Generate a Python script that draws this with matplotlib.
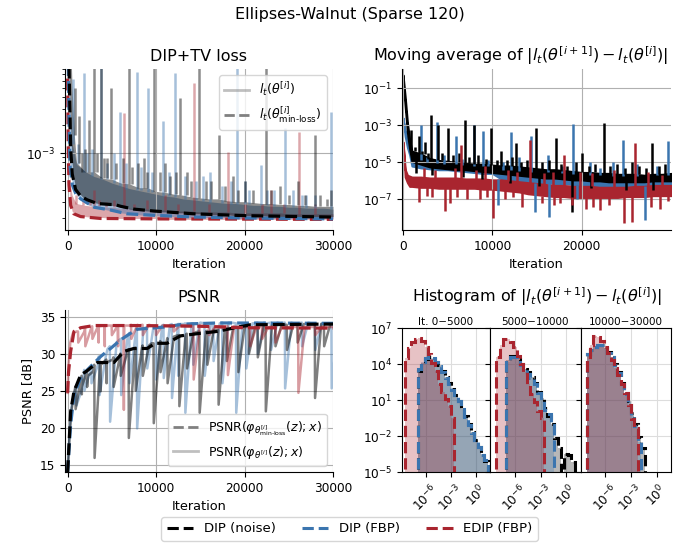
import numpy as np
import matplotlib
matplotlib.use('Agg')
import matplotlib.pyplot as plt
from matplotlib.lines import Line2D

C_NOISE = 'black'
C_FBP = '#3b75af'
C_EDIP = '#a9252f'

# iterations at which the envelope of the noisy curves is sampled
band_it = [0, 250, 500, 750] + list(range(1000, 30001, 1000))

# ---- DIP+TV loss, log10 values: lower / upper edge of the dense noisy band ----
loss_noise_hi = [-1.0, -1.5, -2.3, -2.8,
                 -3.1, -3.2, -3.2, -3.27, -3.28, -3.32, -3.33, -3.37, -3.37, -3.41,
                 -3.42, -3.44, -3.45, -3.47, -3.48, -3.49, -3.49, -3.51, -3.52, -3.52,
                 -3.53, -3.54, -3.54, -3.55, -3.55, -3.56, -3.56, -3.57, -3.57, -3.57]
loss_noise_lo = [-1.0, -2.5, -3.1, -3.3,
                 -3.40, -3.50, -3.53, -3.55, -3.56, -3.57, -3.60, -3.61, -3.62, -3.63,
                 -3.63, -3.64, -3.64, -3.65, -3.65, -3.66, -3.66, -3.66, -3.67, -3.67,
                 -3.67, -3.67, -3.68, -3.68, -3.68, -3.68, -3.68, -3.68, -3.68, -3.68]
loss_fbp_hi = [-1.5, -2.4, -2.9, -3.0,
               -3.12, -3.2, -3.25, -3.28, -3.32, -3.35, -3.38, -3.4, -3.42, -3.44,
               -3.46, -3.47, -3.49, -3.5, -3.51, -3.52, -3.53, -3.54, -3.54, -3.55,
               -3.56, -3.56, -3.57, -3.57, -3.58, -3.58, -3.59, -3.59, -3.59, -3.6]
loss_fbp_lo = [-1.5, -3.1, -3.3, -3.4,
               -3.45, -3.54, -3.58, -3.60, -3.62, -3.64, -3.65, -3.66, -3.67, -3.67,
               -3.68, -3.68, -3.68, -3.69, -3.69, -3.69, -3.69, -3.69, -3.70, -3.70,
               -3.70, -3.70, -3.70, -3.70, -3.70, -3.70, -3.70, -3.70, -3.70, -3.70]
loss_edip_hi = [-2.1, -3.3, -3.45, -3.5,
                -3.54, -3.56, -3.57, -3.58, -3.58, -3.59, -3.59, -3.6, -3.6, -3.61,
                -3.61, -3.62, -3.62, -3.62, -3.63, -3.63, -3.63, -3.63, -3.64, -3.64,
                -3.64, -3.64, -3.64, -3.64, -3.65, -3.65, -3.65, -3.65, -3.65, -3.65]
loss_edip_lo = [-2.1, -3.5, -3.62, -3.65,
                -3.66, -3.68, -3.69, -3.69, -3.70, -3.70, -3.70, -3.70, -3.70, -3.70,
                -3.71, -3.71, -3.71, -3.71, -3.71, -3.71, -3.71, -3.71, -3.71, -3.71,
                -3.71, -3.71, -3.71, -3.71, -3.71, -3.71, -3.71, -3.71, -3.71, -3.71]
loss_noise_spike_it = [800, 1300, 1600, 2000, 2400, 2970, 3300, 3750, 4100, 4470,
                       4930, 5500, 6300, 6920, 7300, 8000, 8600, 9000, 9810, 10400,
                       11000, 11600, 12200, 12670, 13500, 14000, 14900, 15600, 16200, 17150,
                       17800, 18740, 19300, 20100, 21000, 22400, 23000, 24000, 25000, 26000,
                       26800, 27980, 28500, 29290, 29800]
loss_noise_spike = [-2.3, -2.6, -3.0, -2.95, -2.64, -1.5, -3.0, -1.5, -3.05, -3.05,
                    -2.30, -3.1, -3.05, -1.5, -3.15, -3.1, -3.05, -3.2, -1.5, -3.2,
                    -3.1, -3.25, -3.2, -2.41, -3.2, -3.3, -1.5, -3.3, -3.3, -2.81,
                    -3.35, -3.24, -3.4, -3.3, -3.4, -1.5, -3.4, -3.35, -3.45, -3.3,
                    -3.45, -2.81, -3.45, -3.49, -3.4]
loss_fbp_spike_it = [600, 1200, 1840, 2200, 2700, 3800, 4500, 5200, 5900, 6600,
                     7860, 8300, 9060, 9500, 10790, 11500, 12180, 13300, 14500, 15300,
                     16130, 17500, 18500, 19100, 20000, 20500, 21880, 22500, 23300, 24520,
                     25500, 26500, 27000, 28000, 29780]
loss_fbp_spike = [-2.2, -2.9, -2.14, -3.0, -2.95, -1.5, -3.1, -3.0, -2.56, -3.1,
                  -2.13, -3.15, -2.30, -3.2, -2.66, -3.2, -2.14, -3.25, -3.3, -3.25,
                  -3.2, -3.35, -3.3, -1.5, -3.3, -3.4, -3.13, -3.4, -3.4, -2.73,
                  -3.4, -3.45, -3.45, -3.45, -2.56]
loss_edip_spike_it = [1000, 1700, 2500, 3000, 3500, 4300, 5200, 6355, 7500, 9000,
                      11000, 12500, 14250, 16000, 18120, 20000, 22000, 23000, 24500, 26100,
                      28000]
loss_edip_spike = [-3.45, -3.5, -3.5, -3.4, -3.5, -3.52, -3.5, -2.57, -3.55, -3.5,
                   -3.45, -3.55, -2.25, -3.55, -2.99, -3.55, -3.55, -3.4, -3.55, -2.77,
                   -3.55]

minloss_noise_it = [0, 150, 340, 530, 900, 1470, 2200, 3350, 4850, 5300, 6000, 7500, 9700, 14200, 20000, 30000]
minloss_noise = [-1.0, -2.05, -2.95, -3.23, -3.39, -3.46, -3.50, -3.54, -3.55, -3.55, -3.57, -3.60, -3.62, -3.65, -3.67, -3.685]
minloss_fbp_it = [0, 150, 260, 530, 900, 1470, 3000, 4850, 6700, 9700, 14200, 20000, 30000]
minloss_fbp = [-1.5, -2.59, -3.13, -3.34, -3.43, -3.49, -3.58, -3.61, -3.65, -3.666, -3.684, -3.695, -3.705]
minloss_edip_it = [0, 60, 150, 340, 700, 1470, 3700, 10500, 30000]
minloss_edip = [-2.2, -2.9, -3.34, -3.56, -3.65, -3.68, -3.70, -3.705, -3.71]

# ---- moving average of |l(i+1)-l(i)|, log10 values ----
ma_noise_hi = [-0.28, -1.5, -2.9, -3.8,
               -4.4, -4.55, -4.8, -4.9, -4.95, -5.0, -5.05, -5.1, -5.1, -5.15,
               -5.2, -5.2, -5.25, -5.3, -5.35, -5.4, -5.4, -5.45, -5.5, -5.55,
               -5.55, -5.6, -5.6, -5.65, -5.65, -5.65, -5.7, -5.65, -5.65, -5.6]
ma_noise_lo = [-0.6, -2.0, -3.4, -4.3,
               -4.95, -5.1, -5.25, -5.3, -5.35, -5.4, -5.4, -5.45, -5.5, -5.55,
               -5.6, -5.65, -5.7, -5.75, -5.8, -5.85, -5.85, -5.9, -5.95, -5.95,
               -6.0, -6.0, -6.05, -6.05, -6.05, -6.05, -6.05, -6.0, -6.0, -6.0]
ma_fbp_hi = [-2.6, -3.3, -3.8, -4.2,
             -4.7, -4.9, -5.0, -5.05, -5.1, -5.1, -5.15, -5.2, -5.2, -5.25,
             -5.4, -5.4, -5.45, -5.5, -5.5, -5.55, -5.6, -5.6, -5.65, -5.65,
             -5.7, -5.7, -5.75, -5.75, -5.75, -5.75, -5.75, -5.7, -5.7, -5.7]
ma_fbp_lo = [-2.6, -3.6, -4.2, -4.6,
             -5.2, -5.3, -5.35, -5.4, -5.4, -5.45, -5.5, -5.55, -5.6, -5.6,
             -5.9, -5.95, -6.0, -6.05, -6.1, -6.1, -6.15, -6.15, -6.2, -6.2,
             -6.25, -6.25, -6.3, -6.3, -6.3, -6.3, -6.3, -6.25, -6.25, -6.25]
ma_edip_hi = [-3.9, -5.4, -5.7, -5.75,
              -5.8, -5.8, -5.85, -5.85, -5.85, -5.85, -5.9, -5.9, -5.9, -5.95,
              -5.95, -6.0, -6.05, -6.1, -6.15, -6.2, -6.25, -6.25, -6.3, -6.3,
              -6.3, -6.35, -6.35, -6.35, -6.35, -6.3, -6.3, -6.25, -6.25, -6.25]
ma_edip_lo = [-3.9, -5.8, -6.1, -6.3,
              -6.3, -6.35, -6.35, -6.4, -6.4, -6.4, -6.4, -6.4, -6.45, -6.45,
              -6.5, -6.55, -6.6, -6.7, -6.75, -6.8, -6.85, -6.85, -6.9, -6.9,
              -6.9, -6.9, -6.9, -6.9, -6.85, -6.85, -6.85, -6.8, -6.8, -6.8]
ma_noise_spike_it = [933, 1300, 1500, 1755, 2100, 2500, 2800, 3170, 3300, 3900,
                     4400, 5040, 5600, 6300, 6700, 6980, 7400, 7950, 8400, 8800,
                     9300, 9890, 10500, 11000, 11600, 12000, 12200, 12690, 13200, 13900,
                     14900, 15200, 15600, 16300, 17100, 17700, 18300, 18890, 19400, 20000,
                     20800, 21000, 21500, 22440, 23200, 24000, 24800, 25000, 25600, 26400,
                     27200, 27850, 28000, 28600, 29300]
ma_noise_spike = [-3.25, -4.2, -5.6, -3.6, -4.4, -3.9, -4.5, -2.44, -5.7, -3.0,
                  -4.5, -3.16, -4.6, -4.5, -5.8, -2.71, -4.7, -2.98, -4.6, -5.9,
                  -4.8, -3.16, -4.9, -4.4, -4.9, -6.1, -4.7, -3.97, -5.0, -4.9,
                  -3.16, -6.3, -5.0, -4.9, -3.7, -5.1, -5.2, -7.67, -5.0, -4.5,
                  -5.2, -6.4, -5.1, -2.89, -5.2, -5.1, -5.3, -6.5, -5.0, -5.2,
                  -5.3, -3.94, -6.5, -5.2, -5.1]
ma_fbp_spike_it = [1980, 2700, 3845, 4600, 5973, 6600, 7950, 8900, 9500, 10640,
                   11200, 12060, 13000, 14370, 14740, 16200, 16350, 17800, 19080, 19500,
                   20950, 22000, 23500, 24570, 26200, 27100, 28400, 29640]
ma_fbp_spike = [-2.98, -4.7, -2.84, -4.6, -3.6, -4.8, -3.0, -3.3, -4.9, -7.3,
                -5.0, -3.34, -4.7, -3.6, -7.67, -4.6, -7.94, -5.2, -2.95, -7.0,
                -4.96, -5.3, -5.0, -3.8, -5.1, -8.1, -5.2, -3.85]
ma_edip_spike_it = [1755, 2300, 2700, 3300, 3600, 4740, 5226, 5800, 6000, 6460,
                    7200, 8200, 8600, 9200, 9400, 10080, 11400, 11700, 12300, 12800,
                    13330, 14180, 15600, 15800, 16800, 16900, 17600, 18070, 18890, 19800,
                    20500, 21200, 21300, 22000, 23100, 23600, 24780, 25610, 26000, 27400,
                    27700, 28800, 29000, 29700]
ma_edip_spike = [-7.13, -5.3, -6.8, -6.9, -5.4, -7.63, -7.2, -5.3, -6.9, -4.06,
                 -7.0, -5.4, -7.0, -5.2, -6.9, -8.03, -7.0, -5.4, -6.9, -5.5,
                 -7.4, -3.8, -7.2, -5.6, -5.5, -7.3, -7.2, -4.6, -7.3, -5.5,
                 -7.5, -5.6, -7.4, -7.6, -7.3, -5.4, -8.3, -8.2, -3.97, -5.5,
                 -7.4, -7.5, -5.7, -7.1]

# ---- PSNR [dB]: early samples + samples every 500 it. + dips ----
body_it = list(range(1000, 30001, 500))
psnr_noise_head_it = [0, 200, 400, 700]
psnr_noise_head = [14.0, 18.5, 22.0, 24.5]
psnr_noise_body = [25.5, 27.0, 27.6, 28.1, 28.5, 28.8, 29.0, 29.2, 29.5, 29.8,
                   30.0, 30.4, 30.6, 30.8, 31.0, 31.1, 31.3, 31.4, 31.5, 31.7,
                   31.9, 32.1, 32.3, 32.5, 32.6, 32.7, 32.8, 32.9, 33.0, 33.0,
                   33.1, 33.2, 33.2, 33.3, 33.4, 33.5, 33.5, 33.6, 33.7, 33.7,
                   33.8, 33.8, 33.8, 33.9, 33.9, 33.9, 33.9, 33.9, 33.9, 33.9,
                   34.0, 34.0, 34.0, 34.0, 34.0, 34.0, 34.0, 34.0, 34.0]
psnr_fbp_head_it = [0, 200, 400, 700]
psnr_fbp_head = [14.0, 19.0, 22.5, 24.5]
psnr_fbp_body = [25.5, 27.0, 27.8, 28.4, 29.0, 29.6, 30.1, 30.6, 31.0, 31.5,
                 32.0, 32.5, 32.8, 33.2, 33.4, 33.5, 33.6, 33.7, 33.8, 33.8,
                 33.9, 33.9, 34.0, 34.0, 34.0, 34.1, 34.1, 34.1, 34.2, 34.1,
                 34.2, 34.1, 34.2, 34.2, 34.1, 34.2, 34.1, 34.2, 34.1, 34.2,
                 34.1, 34.2, 34.1, 34.1, 34.2, 34.1, 34.1, 34.2, 34.1, 34.1,
                 34.1, 34.2, 34.1, 34.1, 34.1, 34.1, 34.1, 34.1, 34.1]
psnr_edip_head_it = [0, 100, 300, 600]
psnr_edip_head = [24.7, 28.5, 31.5, 32.8]
psnr_edip_body = [33.0, 33.4, 33.6, 33.7, 33.7, 33.8, 33.8, 33.8, 33.8, 33.8,
                  33.8, 33.8, 33.9, 33.8, 33.8, 33.9, 33.8, 33.8, 33.8, 33.8,
                  33.8, 33.8, 33.8, 33.8, 33.8, 33.8, 33.8, 33.8, 33.7, 33.8,
                  33.7, 33.7, 33.7, 33.7, 33.7, 33.7, 33.6, 33.7, 33.6, 33.6,
                  33.6, 33.6, 33.6, 33.6, 33.6, 33.6, 33.6, 33.6, 33.6, 33.6,
                  33.6, 33.6, 33.6, 33.6, 33.6, 33.6, 33.6, 33.6, 33.6]
psnr_noise_dip_it = [900, 1600, 2200, 3045, 3700, 4400, 5200, 6000, 6917, 7700,
                     8500, 9737, 10500, 11300, 12632, 13500, 14925, 15800, 17068, 18000,
                     19300, 20500, 21500, 22406, 23500, 24800, 26000, 27970, 29000]
psnr_noise_dip = [22.5, 24.5, 25.5, 15.9, 24.9, 26.0, 25.5, 27.0, 18.6, 25.0,
                  27.0, 20.6, 27.5, 26.0, 22.9, 28.0, 22.0, 28.5, 23.1, 29.0,
                  27.5, 30.0, 29.5, 22.2, 31.0, 30.5, 31.5, 24.0, 31.0]
psnr_fbp_dip_it = [1000, 1900, 2700, 3609, 4800, 6055, 7000, 7857, 9000, 10000,
                   10865, 11800, 12500, 13308, 14200, 15500, 16500, 17500, 19060, 20200,
                   21500, 23000, 24586, 26500, 28000, 29850]
psnr_fbp_dip = [23.0, 25.0, 26.0, 24.4, 20.8, 24.4, 26.0, 19.9, 28.0, 26.5,
                26.7, 24.0, 27.0, 22.0, 28.5, 27.0, 29.0, 26.0, 22.0, 28.0,
                30.0, 30.5, 25.3, 31.0, 30.5, 25.3]
psnr_edip_dip_it = [1200, 2000, 2800, 3500, 4200, 5000, 5700, 6355, 7200, 8500,
                    10000, 12000, 14250, 16000, 18120, 20640, 22000, 23500, 26090, 28000]
psnr_edip_dip = [31.5, 31.0, 32.0, 31.5, 31.0, 32.5, 31.0, 22.4, 32.0, 32.5,
                 32.5, 33.0, 26.5, 32.5, 27.1, 31.0, 32.0, 31.5, 24.7, 32.5]

psnr_min_noise_it = [0, 340, 714, 1466, 2218, 3346, 5226, 6355, 7481, 8985, 9925, 11240, 12744, 15000, 16880, 19510, 20640, 30000]
psnr_min_noise = [14.0, 22.2, 24.9, 27.1, 27.7, 28.8, 28.8, 30.3, 30.7, 30.7, 31.4, 31.4, 32.4, 32.75, 33.0, 33.65, 33.9, 34.0]
psnr_min_fbp_it = [0, 338, 714, 1466, 2218, 3722, 4850, 5978, 7106, 7857, 11000, 13120, 17000, 30000]
psnr_min_fbp = [14.0, 20.4, 24.4, 26.7, 27.8, 29.6, 30.7, 31.85, 32.75, 33.3, 33.6, 34.0, 34.15, 34.1]
psnr_min_edip_it = [0, 100, 338, 714, 1466, 2970, 7500, 15000, 20000, 30000]
psnr_min_edip = [24.7, 27.5, 30.3, 33.0, 33.5, 33.8, 33.8, 33.7, 33.5, 33.45]

# ---- histograms: log10 of counts per bin, bins at 10^(-8.6 + 0.4 k) ----
N = None
hist_edges_exp = np.linspace(-8.6, 2.2, 28)
hist_titles = ['It. 0\u22125000', '5000\u221210000', '10000\u221230000']
hist_edip = [
    [4.5, 5.3, 5.8, 6.1, 6.15, 5.9, 5.4, 4.8, 4.1, 3.4, 2.3, 1.7, 1.1, 0.5, -0.5] + [N] * 12,
    [N, 4.6, 5.6, 6.05, 6.1, 5.85, 5.4, 4.7, 4.0, 3.3, 2.3, 1.5, 0.8, 0.1, -0.5] + [N] * 12,
    [N, 4.6, 5.6, 6.3, 6.25, 5.9, 5.4, 4.9, 4.3, 3.7, 3.1, 2.3, 1.6, 0.6, -0.6, -1.3] + [N] * 11,
]
hist_noise = [
    [N] * 4 + [3.4, 4.1, 4.45, 4.6, 4.45, 4.2, 3.9, 3.4, 2.9, 2.4, 1.9, 1.45, 0.95, 0.3, -0.35,
               -1.0, -1.7, -2.3, -2.9, -3.5, -4.1, N, N],
    [N] * 4 + [4.3, 4.7, 4.7, 4.4, 4.0, 3.6, 3.3, 2.9, 2.4, 1.7, 1.2, 0.3, -0.3, -1.0, -2.2, -3.0,
               N, -3.5, -3.6, -4.2, N, N, N],
    [N, 4.8, 5.2, 5.4, 5.55, 5.6, 5.3, 5.0, 4.6, 4.0, 3.3, 2.4, 1.6, 0.9, -0.1, -1.0, -2.1, -3.0] + [N] * 9,
]
hist_fbp = [
    [N] * 4 + [3.6, 4.2, 4.5, 4.65, 4.5, 4.2, 3.85, 3.35, 2.85, 2.35, 1.85, 1.4, 0.9, 0.25, -0.4,
               -1.05, -1.75, -2.35, -2.95, -3.55, -4.0, N, N],
    [N] * 4 + [4.2, 4.6, 4.6, 4.35, 3.95, 3.55, 3.2, 2.8, 2.3, 1.6, 1.0, 0.2, -0.2, -1.1] + [N] * 9,
    [N, 4.8, 5.2, 5.4, 5.55, 5.55, 5.3, 4.95, 4.55, 3.95, 3.25, 2.35, 1.5, 0.8, -0.3, -1.2, -2.5] + [N] * 10,
]


def band_with_spikes(ax, lo, hi, sp_it, sp, color, alpha, lw, edge=0):
    lo = np.array(lo)
    hi = np.array(hi)
    ax.fill_between(band_it, 10 ** lo, 10 ** hi, color=color, alpha=alpha, lw=edge)
    base = []
    for s, v in zip(sp_it, sp):
        k = int(np.argmin(np.abs(np.array(band_it) - s)))
        base.append(hi[k] if v > hi[k] else lo[k])
    ax.vlines(sp_it, 10 ** np.array(base), 10 ** np.array(sp), color=color, alpha=alpha, lw=lw)


def with_dips(head_it, head, body, ev_it, ev, before, after):
    pts = list(zip(head_it, head)) + list(zip(body_it, body))
    for s in ev_it:
        pts = [p for p in pts if not (s - before < p[0] < s + after)]
    for s, v in zip(ev_it, ev):
        k = int(np.argmin(np.abs(np.array(body_it) - s)))
        pts += [(s - before, body[k]), (s, v), (s + after, body[k])]
    pts.sort()
    x, y = zip(*pts)
    return np.array(x), np.array(y)


plt.rcParams['font.family'] = 'DejaVu Sans'
fig = plt.figure(figsize=(6.99, 5.49), dpi=100)
W, H = 699.0, 549.0


def box(l, t, r, b):
    return [l / W, 1 - b / H, (r - l) / W, (b - t) / H]


TICK = 8.7
LAB = 9.3
TIT = 11.5


def style(ax):
    ax.tick_params(labelsize=TICK)
    ax.grid(True, color='#b0b0b0', lw=0.8)
    ax.spines['top'].set_visible(False)
    ax.spines['right'].set_visible(False)


# --- DIP+TV loss ---
ax = fig.add_axes(box(65, 69, 333, 230))
band_with_spikes(ax, loss_edip_lo, loss_edip_hi, loss_edip_spike_it, loss_edip_spike, C_EDIP, 0.4, 1.8)
band_with_spikes(ax, loss_fbp_lo, loss_fbp_hi, loss_fbp_spike_it, loss_fbp_spike, C_FBP, 0.45, 1.8)
band_with_spikes(ax, loss_noise_lo, loss_noise_hi, loss_noise_spike_it, loss_noise_spike, C_NOISE, 0.45, 1.8)
for xi, yv, c in [(minloss_edip_it, minloss_edip, C_EDIP), (minloss_fbp_it, minloss_fbp, C_FBP),
                  (minloss_noise_it, minloss_noise, C_NOISE)]:
    ax.plot(xi, 10 ** np.array(yv), color=c, lw=2.3, ls='--')
ax.set_yscale('log')
ax.set_ylim(1.5e-4, 8e-3)
ax.set_xlim(-300, 30000)
ax.set_xticks([0, 10000, 20000, 30000])
ax.set_xlabel('Iteration', fontsize=LAB)
ax.set_title('DIP+TV loss', fontsize=TIT)
style(ax)
ax.legend([Line2D([], [], color='gray', lw=2, alpha=0.5), Line2D([], [], color='gray', lw=2, ls='--')],
          [r'$l_t(\theta^{[i]})$', r'$l_t(\theta^{[i]}_{\text{min-loss}})$'],
          loc='upper right', fontsize=9)

# --- moving average ---
ax = fig.add_axes(box(402, 69, 671, 230))
band_with_spikes(ax, ma_fbp_lo, ma_fbp_hi, ma_fbp_spike_it, ma_fbp_spike, C_FBP, 1.0, 1.8, edge=1.5)
band_with_spikes(ax, ma_noise_lo, ma_noise_hi, ma_noise_spike_it, ma_noise_spike, C_NOISE, 1.0, 1.8, edge=1.5)
band_with_spikes(ax, ma_edip_lo, ma_edip_hi, ma_edip_spike_it, ma_edip_spike, C_EDIP, 1.0, 1.8, edge=1.5)
ax.set_yscale('log')
ax.set_ylim(2.2e-9, 1.1)
ax.set_xlim(-110, 29990)
ax.set_xticks([0, 10000, 20000])
ax.set_yticks([1e-7, 1e-5, 1e-3, 1e-1])
ax.set_xlabel('Iteration', fontsize=LAB)
ax.set_title(r'Moving average of $|l_t(\theta^{[i+1]}) - l_t(\theta^{[i]})|$', fontsize=TIT, x=0.44)
style(ax)

# --- PSNR ---
ax = fig.add_axes(box(65, 310, 333, 472))
for hi_, hv, bv, si, sv, c, a in [
        (psnr_fbp_head_it, psnr_fbp_head, psnr_fbp_body, psnr_fbp_dip_it, psnr_fbp_dip, C_FBP, 0.45),
        (psnr_noise_head_it, psnr_noise_head, psnr_noise_body, psnr_noise_dip_it, psnr_noise_dip, C_NOISE, 0.5),
        (psnr_edip_head_it, psnr_edip_head, psnr_edip_body, psnr_edip_dip_it, psnr_edip_dip, C_EDIP, 0.45)]:
    x, y = with_dips(hi_, hv, bv, si, sv, 30, 700)
    ax.plot(x, y, color=c, lw=1.8, alpha=a)
for xi, yv, c in [(psnr_min_fbp_it, psnr_min_fbp, C_FBP), (psnr_min_noise_it, psnr_min_noise, C_NOISE),
                  (psnr_min_edip_it, psnr_min_edip, C_EDIP)]:
    ax.plot(xi, yv, color=c, lw=2.3, ls='--')
ax.set_ylim(14.0, 35.9)
ax.set_xlim(-300, 30000)
ax.set_xticks([0, 10000, 20000, 30000])
ax.set_yticks([15, 20, 25, 30, 35])
ax.set_xlabel('Iteration', fontsize=LAB)
ax.set_ylabel('PSNR [dB]', fontsize=LAB)
ax.set_title('PSNR', fontsize=TIT)
style(ax)
ax.legend([Line2D([], [], color='gray', lw=2, ls='--'), Line2D([], [], color='gray', lw=2, alpha=0.5)],
          [r'PSNR($\varphi_{\theta^{[i]}_{\text{min-loss}}}(z); x$)', r'PSNR($\varphi_{\theta^{[i]}}(z); x$)'],
          loc='lower right', fontsize=9)

# --- histograms ---
edges = 10 ** hist_edges_exp
cols = [(402, 490), (490, 580.5), (580.5, 671)]
hax = []
for p in range(3):
    kw = {}
    if p > 0:
        kw = dict(sharex=hax[0], sharey=hax[0])
    ax = fig.add_axes(box(cols[p][0], 328, cols[p][1], 472), **kw)
    hax.append(ax)
    series = [(hist_noise[p], C_NOISE), (hist_fbp[p], C_FBP), (hist_edip[p], C_EDIP)]
    for vals, c in series:
        v = np.array([1e-12 if q is None else 10 ** q for q in vals])
        ax.stairs(v, edges, baseline=1e-12, fill=True, color=c, alpha=0.28, lw=0)
    for vals, c in series:
        v = np.array([1e-12 if q is None else 10 ** q for q in vals])
        ax.stairs(v, edges, baseline=1e-12, color=c, lw=2.2, ls='--')
    ax.set_xscale('log')
    ax.set_yscale('log')
    ax.set_xlim(10 ** -8.92, 10 ** 1.68)
    ax.set_ylim(1e-5, 1e7)
    ax.set_xticks([1e-6, 1e-3, 1e0])
    ax.set_yticks([1e-5, 1e-2, 1e1, 1e4, 1e7])
    ax.minorticks_off()
    ax.grid(True, color='#dddddd', lw=0.8)
    ax.set_axisbelow(True)
    ax.tick_params(labelsize=TICK)
    ax.tick_params(axis='x', labelrotation=45)
    ax.set_title(hist_titles[p], fontsize=7.5, pad=2)
    if p > 0:
        ax.tick_params(axis='y', labelleft=False)
fig.text((402 + 671) / 2 / W, 1 - 297 / H, r'Histogram of $|l_t(\theta^{[i+1]}) - l_t(\theta^{[i]})|$',
         ha='center', va='center', fontsize=TIT)

fig.suptitle('Ellipses-Walnut (Sparse 120)', y=1 - 14 / H, va='center', fontsize=TIT)
fig.legend([Line2D([], [], color=C_NOISE, lw=2.2, ls='--'), Line2D([], [], color=C_FBP, lw=2.2, ls='--'),
            Line2D([], [], color=C_EDIP, lw=2.2, ls='--')],
           ['DIP (noise)', 'DIP (FBP)', 'EDIP (FBP)'], loc='lower center', ncol=3,
           bbox_to_anchor=(0.5, 0.003), fontsize=9.5)

fig.savefig('out.png', dpi=100)
